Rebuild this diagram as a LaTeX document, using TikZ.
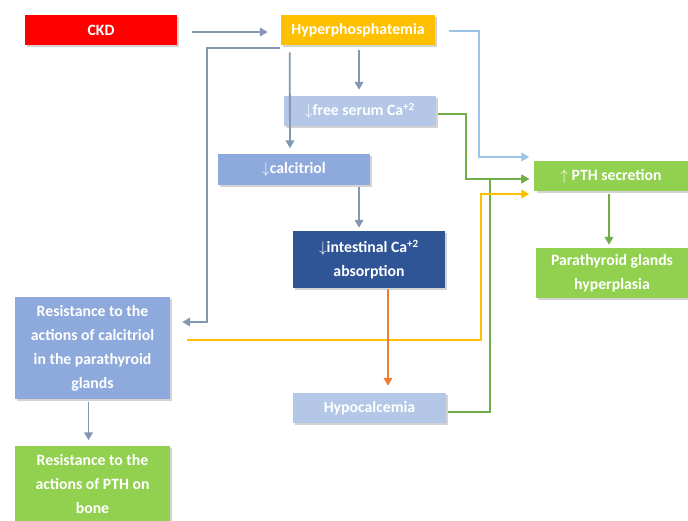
\documentclass[tikz,border=0pt]{standalone}
\usepackage{fontspec}
\setmainfont{Carlito}
\usetikzlibrary{arrows.meta,calc,shadows}
\definecolor{ckdred}{HTML}{FF0000}
\definecolor{phosgold}{HTML}{FFC000}
\definecolor{paleblue}{HTML}{B4C7E7}
\definecolor{midblue}{HTML}{8EA9DB}
\definecolor{darkblue}{HTML}{2F5597}
\definecolor{leafgreen}{HTML}{92D050}
\definecolor{slateline}{HTML}{8497B0}
\definecolor{skyline}{HTML}{9DC3E6}
\definecolor{greenline}{HTML}{70AD47}
\definecolor{orangeline}{HTML}{ED7D31}
\tikzset{
  box/.style={text=white,inner sep=0pt,align=center,
    font=\fontsize{11.2}{17}\selectfont\bfseries,
    drop shadow={shadow xshift=1.5pt,shadow yshift=-1.5pt,opacity=0.35}},
  link/.style={line width=1.3pt,-{Triangle[length=5.5pt,width=6pt]}},
}
\begin{document}
\begin{tikzpicture}[x=0.025cm,y=-0.025cm]
\useasboundingbox (0,0) rectangle (688,520);
\node(ckd) at (101,30)[box,fill=ckdred,minimum width=3.8cm,minimum height=0.75cm]          {CKD};
\node(hyper) at (358,30)[box,fill=phosgold,minimum width=3.85cm,minimum height=0.75cm]     {Hyperphosphatemia};
\node(freeca) at (360,111)[box,fill=paleblue,minimum width=3.8cm,minimum height=0.75cm]    {$\downarrow$free serum Ca\textsuperscript{+2}};
\node(calcitriol) at (294,169)[box,fill=midblue,minimum width=3.8cm,minimum height=0.775cm]{$\downarrow$calcitriol};
\node(intestinal) at (369,259.5)[box,fill=darkblue,minimum width=3.8cm,minimum height=1.425cm]{$\downarrow$intestinal Ca\textsuperscript{+2}\\absorption};
\node(pth) at (611,176)[box,fill=leafgreen,minimum width=3.825cm,minimum height=0.75cm]    {$\uparrow$ PTH secretion};
\node(hyperplasia) at (612,273)[box,fill=leafgreen,minimum width=3.8cm,minimum height=1.25cm]{Parathyroid glands\\hyperplasia};
\node(resist) at (92.5,348)[box,fill=midblue,minimum width=3.875cm,minimum height=2.55cm]   {Resistance to the\\actions of calcitriol\\in the parathyroid\\glands};
\node(bone) at (92.5,484)[box,fill=leafgreen,minimum width=3.875cm,minimum height=1.925cm]{Resistance to the\\actions of PTH on\\bone};
\node(hypocal) at (369.5,408)[box,fill=paleblue,minimum width=3.825cm,minimum height=0.75cm]{Hypocalcemia};

% slate connectors
\draw[link,slateline] ($(ckd.east)+(15,2)$) -- ($(hyper.west)+(-13,2)$);
\draw[link,slateline] ($(hyper.south west)+(-1,3)$) -| ($(resist.east)+(37,-26)$) -- ($(resist.east)+(12,-26)$);
\draw[link,slateline] ($(hyper.south)+(1,5)$) -- ($(freeca.north)+(-1,-6)$);
\draw[link,slateline] ($(hyper.south west)+(9,7)$) -- ($(calcitriol.north)+(-4,-5)$);
\draw[link,slateline] ($(calcitriol.south)+(65,2)$) -- ($(intestinal.north)+(-10,-3)$);
\draw[link,slateline] ($(resist.south)+(-4,3)$) -- ($(bone.north)+(-4,-5)$);

% into PTH secretion
\draw[link,skyline] ($(hyper.east)+(14,1)$) -| ($(pth.west)+(-55,-19)$) -- ($(pth.west)+(-5,-19)$);
\draw[link,greenline] ($(freeca.east)+(2,3)$) -| ($(pth.west)+(-68,3)$) -- ($(pth.west)+(-5,3)$);
\draw[link,greenline] ($(hypocal.east)+(2,4)$) -| ($(pth.west)+(-44,3)$) -- ($(pth.west)+(-5,3)$);
\draw[link,phosgold] ($(resist.east)+(17,-8)$) -| ($(pth.west)+(-53,18)$) -- ($(pth.west)+(-5,18)$);
\draw[link,greenline] ($(pth.south)+(-2,3)$) -- ($(hyperplasia.north)+(-3,-3)$);

\draw[link,orangeline] ($(intestinal.south)+(19,1)$) -- ($(hypocal.north)+(18.5,-7)$);
\end{tikzpicture}
\end{document}
